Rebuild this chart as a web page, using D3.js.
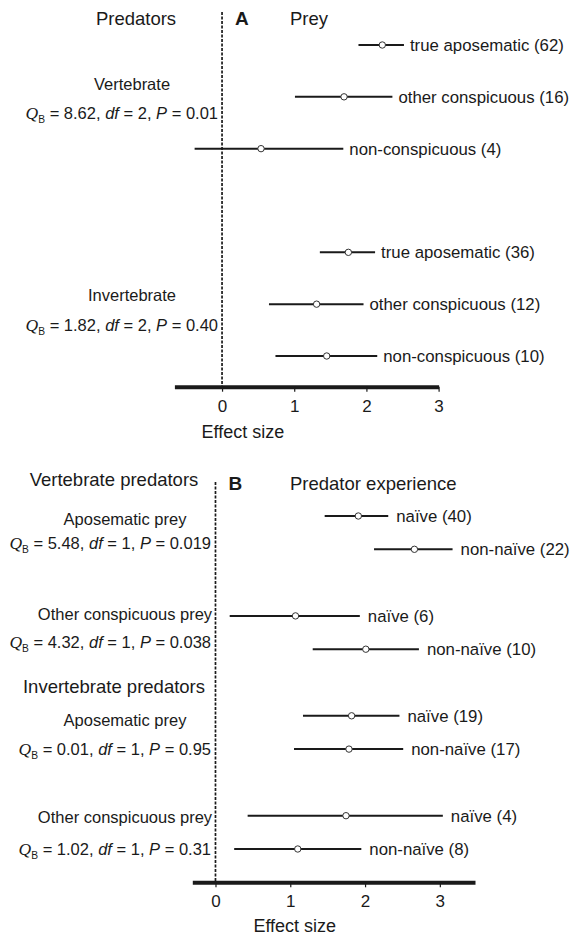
<!DOCTYPE html>
<html>
<head>
<meta charset="utf-8">
<script src="https://cdn.jsdelivr.net/npm/d3@7"></script>
<style>
  html, body { margin: 0; padding: 0; background: #fff; }
  svg { display: block; font-family: "Liberation Sans", Arial, Helvetica, sans-serif; }
</style>
</head>
<body>
<div id="chart"></div>
<script>
// panel A: prey type, split by predator type
const preyLabelsA = ["true aposematic (62)", "other conspicuous (16)", "non-conspicuous (4)",
                     "true aposematic (36)", "other conspicuous (12)", "non-conspicuous (10)"];
const meanA = [2.22, 1.69, 0.54, 1.75, 1.31, 1.45];
const lowA = [1.89, 1.01, -0.38, 1.355, 0.65, 0.74];
const highA = [2.52, 2.36, 1.68, 2.12, 1.96, 2.15];
const groupsA = ["Vertebrate", "Invertebrate"];
const statsA = [["8.62", "2", "0.01"], ["1.82", "2", "0.40"]];

// panel B: predator experience
const expLabelsB = ["naïve (40)", "non-naïve (22)", "naïve (6)", "non-naïve (10)",
                    "naïve (19)", "non-naïve (17)", "naïve (4)", "non-naïve (8)"];
const meanB = [1.91, 2.66, 1.07, 2.01, 1.82, 1.785, 1.745, 1.10];
const lowB = [1.46, 2.12, 0.19, 1.30, 1.17, 1.05, 0.43, 0.25];
const highB = [2.31, 3.17, 1.93, 2.72, 2.46, 2.51, 3.04, 1.95];
const predatorsB = ["Vertebrate predators", "Invertebrate predators"];
const groupsB = ["Aposematic prey", "Other conspicuous prey", "Aposematic prey", "Other conspicuous prey"];
const statsB = [["5.48", "1", "0.019"], ["4.32", "1", "0.038"], ["0.01", "1", "0.95"], ["1.02", "1", "0.31"]];

const tickValues = [0, 1, 2, 3];

const W = 576, H = 936;
const ink = "#1a1a1a";

const svg = d3.select("#chart").append("svg")
  .attr("width", W)
  .attr("height", H)
  .attr("viewBox", [0, 0, W, H]);

// Q_B = .., df = .., P = .. line
function statLine(g, x, y, s, size) {
  const t = g.append("text")
    .attr("x", x).attr("y", y)
    .attr("text-anchor", "end")
    .attr("font-size", size)
    .attr("fill", ink);
  t.append("tspan").attr("font-family", "'Liberation Serif', 'Times New Roman', serif")
    .attr("font-style", "italic").attr("font-size", size + 1).text("Q");
  t.append("tspan").attr("font-size", size * 0.62).attr("dy", 4).text("B");
  t.append("tspan").attr("dy", -4).text(" = " + s[0] + ", ");
  t.append("tspan").attr("font-style", "italic").text("df");
  t.append("tspan").text(" = " + s[1] + ", ");
  t.append("tspan").attr("font-style", "italic").text("P");
  t.append("tspan").text(" = " + s[2]);
}

function drawPanel(o) {
  const g = svg.append("g");
  const x = d3.scaleLinear().domain(o.xDomain).range(o.xRange);
  const y = d3.scaleLinear().domain([0, o.lastRow]).range(o.yRange);

  const rows = o.mean.map((m, i) => ({
    mean: m, lo: o.low[i], hi: o.high[i], label: o.labels[i], row: o.rowOf(i)
  }));

  // reference line at zero
  g.append("line")
    .attr("x1", x(0)).attr("x2", x(0))
    .attr("y1", o.dashTop).attr("y2", o.axisY)
    .attr("stroke", ink)
    .attr("stroke-width", 1.7)
    .attr("stroke-dasharray", "3,1.5");

  // axis
  const axis = g.append("g")
    .attr("transform", `translate(0,${o.axisY})`)
    .call(d3.axisBottom(x).tickValues(tickValues).tickFormat(d3.format("d"))
      .tickSize(5).tickSizeOuter(0).tickPadding(8));
  axis.select(".domain").attr("stroke", ink).attr("stroke-width", 4);
  axis.selectAll(".tick line").attr("stroke", ink).attr("stroke-width", 1.2);
  axis.selectAll(".tick text")
    .attr("font-size", 17)
    .attr("font-family", "'Liberation Sans', Arial, sans-serif")
    .attr("fill", ink);

  g.append("text")
    .attr("x", x(o.titleAt)).attr("y", o.axisY + o.titleDy)
    .attr("text-anchor", "middle")
    .attr("font-size", 18)
    .attr("fill", ink)
    .text("Effect size");

  // confidence intervals
  const r = g.selectAll("g.row").data(rows).join("g").attr("class", "row");
  r.append("line")
    .attr("x1", d => x(d.lo)).attr("x2", d => x(d.hi))
    .attr("y1", d => y(d.row)).attr("y2", d => y(d.row))
    .attr("stroke", ink).attr("stroke-width", 2);
  r.append("circle")
    .attr("cx", d => x(d.mean)).attr("cy", d => y(d.row))
    .attr("r", 3.2)
    .attr("fill", "#fff").attr("stroke", "#333").attr("stroke-width", 1);
  r.append("text")
    .attr("x", d => x(d.hi) + o.labelGap).attr("y", d => y(d.row))
    .attr("dy", "0.36em")
    .attr("font-size", 16.8)
    .attr("fill", ink)
    .text(d => d.label);

  // panel letter and headers
  g.append("text").attr("x", x(0) + 13).attr("y", o.headY)
    .attr("font-size", 19).attr("font-weight", "bold").attr("fill", ink).text(o.letter);
  g.append("text").attr("x", 290).attr("y", o.headY)
    .attr("font-size", 18.5).attr("fill", ink).text(o.rightHead);

  return { g, x, y };
}

// ---- panel A
const pA = drawPanel({
  xDomain: [-0.66, 3.0], xRange: [174.4, 438.6],
  lastRow: 6, yRange: [45, 356],
  rowOf: i => Math.floor(i / 3) * 4 + (i % 3),
  mean: meanA, low: lowA, high: highA, labels: preyLabelsA,
  axisY: 386.7, dashTop: 12, labelGap: 6,
  titleAt: 0.29, titleDy: 51,
  letter: "A", rightHead: "Prey", headY: 25
});
pA.g.append("text").attr("x", 136).attr("y", 25).attr("text-anchor", "middle")
  .attr("font-size", 18.5).attr("fill", ink).text("Predators");
groupsA.forEach((name, k) => {
  const mid = pA.y(k * 4 + 1);
  pA.g.append("text").attr("x", 132).attr("y", mid - 7 + (k ? 4 : 0))
    .attr("text-anchor", "middle").attr("font-size", 16.5).attr("fill", ink).text(name);
  statLine(pA.g, 218, mid + 22 + (k ? 5 : 0), statsA[k], 16.5);
});

// ---- panel B
const pB = drawPanel({
  xDomain: [-0.31, 3.47], xRange: [192.3, 475],
  lastRow: 10, yRange: [516, 849],
  rowOf: i => Math.floor(i / 2) * 3 + (i % 2),
  mean: meanB, low: lowB, high: highB, labels: expLabelsB,
  axisY: 882.3, dashTop: 482, labelGap: 8,
  titleAt: 1.06, titleDy: 49.5,
  letter: "B", rightHead: "Predator experience", headY: 490
});
predatorsB.forEach((name, k) => {
  pB.g.append("text").attr("x", 114).attr("y", k ? 693 : 486)
    .attr("text-anchor", "middle").attr("font-size", 18.5).attr("fill", ink).text(name);
});
groupsB.forEach((name, k) => {
  const top = pB.y(k * 3), bot = pB.y(k * 3 + 1);
  pB.g.append("text").attr("x", 125)
    .attr("y", top + 6 + (k === 0 ? 3 : (k === 1 ? -2 : (k === 2 ? 4 : 1))))
    .attr("text-anchor", "middle").attr("font-size", 16.5).attr("fill", ink).text(name);
  statLine(pB.g, 211, bot + 6 - (k === 0 ? 6 : (k === 1 ? 7 : 0)), statsB[k], 16.5);
});
</script>
</body>
</html>
